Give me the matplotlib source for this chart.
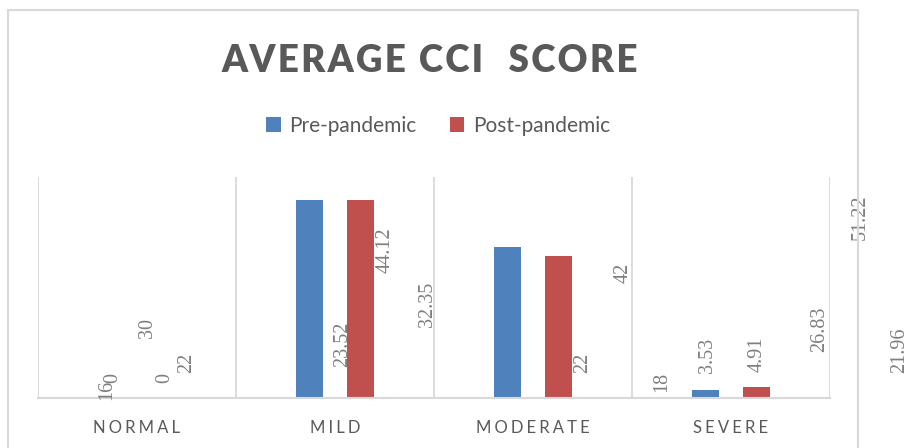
import matplotlib
matplotlib.use("Agg")
import matplotlib.pyplot as plt
import matplotlib.patches as patches
import numpy as np

# data
categories = ["NORMAL", "MILD", "MODERATE", "SEVERE"]
pre_pandemic = [0, 89.8, 68.3, 3.53]
post_pandemic = [0, 89.8, 64.3, 4.91]

# stray data labels as they sit in the original chart
label_texts = ["16", "0", "30", "0", "22", "23.52", "44.12", "32.35",
               "42", "22", "18", "3.53", "4.91", "26.83", "51.22", "21.96"]
label_x = [-0.152, -0.121, 0.051, 0.141, 0.253, 1.040, 1.253, 1.465,
           2.455, 2.253, 2.652, 2.879, 3.131, 3.449, 3.652, 3.854]
label_y = [-0.9, 6.8, 27.1, 6.8, 11.3, 14.0, 56.6, 32.1,
           52.0, 11.3, 2.7, 11.3, 11.8, 20.8, 71.5, 11.3]

BLUE = "#4f81bd"
RED = "#c0504d"
GREY = "#595959"
GRID = "#d9d9d9"


def spaced(s, sep="\u2009"):
    return sep.join(s)


fig = plt.figure(figsize=(9.12, 4.48), dpi=100)
ax = fig.add_axes([38/912, 50/448, 792/912, 221/448])

x = np.arange(len(categories))
w = 0.135
off = 0.13
ax.bar(x - off, pre_pandemic, w, color=BLUE, label="Pre-pandemic")
ax.bar(x + off, post_pandemic, w, color=RED, label="Post-pandemic")

ax.set_xlim(-0.5, len(categories) - 0.5)
ax.set_ylim(0, 100)
for b in np.arange(-0.5, len(categories), 1.0):
    ax.axvline(b, color=GRID, lw=1.3, zorder=0)
for s in ax.spines.values():
    s.set_visible(False)
ax.axhline(0, color=GRID, lw=1.5, zorder=3, clip_on=False)
ax.set_yticks([])
ax.set_xticks(x)
ax.set_xticklabels([spaced(c, "\u2009\u200a") for c in categories],
                   fontsize=12, color=GREY, family="Lato")
ax.tick_params(axis="x", length=0, pad=16)

for t, lx, ly in zip(label_texts, label_x, label_y):
    ax.text(lx, ly, t, rotation=90, ha="center", va="bottom", fontsize=14.5,
            color="#7f7f7f", family="Liberation Serif", clip_on=False)

fig.text(430/912, 1 - 61/448, spaced("AVERAGE CCI", "\u200a") + "   " + spaced("SCORE", "\u200a"),
         ha="center", va="center", fontsize=26.5, fontweight="heavy", color=GREY, family="Lato")

fig.legend(loc="center", bbox_to_anchor=(438/912, 1 - 126/448), ncol=2, frameon=False,
           prop={"family": "Lato", "size": 15}, labelcolor=GREY,
           handlelength=0.7, handleheight=0.7, handletextpad=0.4, columnspacing=1.6)

border = patches.Rectangle((8/912, -0.05), 850/912, 1.05 - 10/448, transform=fig.transFigure,
                           fill=False, edgecolor=GRID, lw=1.5, clip_on=False)
fig.patches.append(border)

fig.savefig("out.png", dpi=100)
